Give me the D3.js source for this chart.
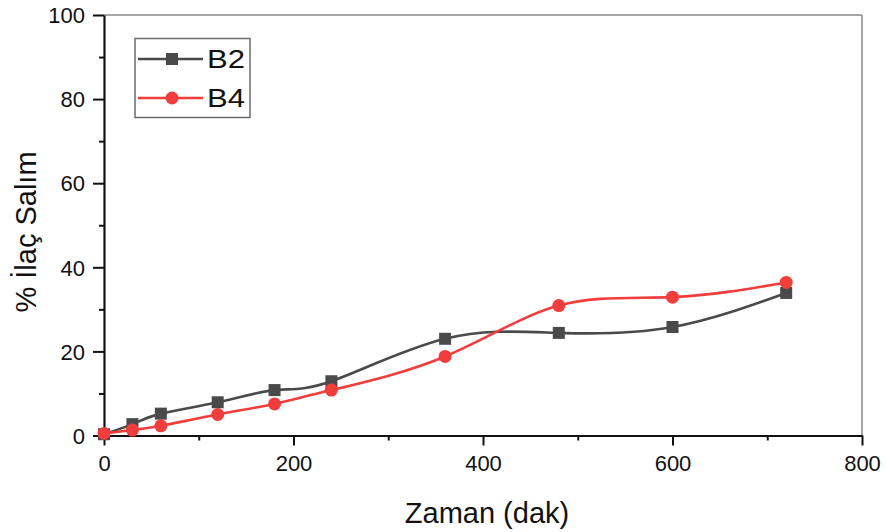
<!DOCTYPE html>
<html>
<head>
<meta charset="utf-8">
<script src="https://cdn.jsdelivr.net/npm/d3@7"></script>
<style>
  html, body { margin: 0; padding: 0; background: #fff; }
  svg { display: block; font-family: Arial, "Liberation Sans", sans-serif; }
</style>
</head>
<body>
<svg id="chart" width="886" height="532"></svg>
<script>
// Release time points (minutes)
const times = [0, 30, 60, 120, 180, 240, 360, 480, 600, 720];
// Cumulative drug release (%) for each formulation
const b2Values = [0.3, 2.7, 5.2, 7.9, 10.8, 12.9, 23.0, 24.4, 25.8, 33.9];
const b4Values = [0.5, 1.3, 2.3, 5.0, 7.5, 10.8, 18.8, 30.9, 32.9, 36.4];
const seriesNames = ["B2", "B4"];
const seriesColors = ["#4a4a4a", "#f23d3d"];
const xTicks = [0, 200, 400, 600, 800];
const yTicks = [0, 20, 40, 60, 80, 100];

(function () {
const svg = d3.select("#chart");
const plotLeft = 104, plotRight = 862, plotTop = 15, plotBottom = 435.5;

const x = d3.scaleLinear().domain([0, 800]).range([plotLeft, plotRight]);
const y = d3.scaleLinear().domain([0, 100]).range([plotBottom, plotTop]);

// Frame: thin grey top and right edges
svg.append("line").attr("x1", plotLeft).attr("x2", plotRight).attr("y1", plotTop).attr("y2", plotTop)
  .attr("stroke", "#8a8a8a").attr("stroke-width", 1.5);
svg.append("line").attr("x1", plotRight).attr("x2", plotRight).attr("y1", plotTop).attr("y2", plotBottom)
  .attr("stroke", "#8a8a8a").attr("stroke-width", 1.5);

// Bottom axis with major and minor ticks
const xMinor = svg.append("g").attr("transform", `translate(0,${plotBottom})`)
  .call(d3.axisBottom(x).tickValues(d3.range(100, 800, 200)).tickSize(5).tickFormat(""));
xMinor.call(g => g.select(".domain").remove());
const xMajor = svg.append("g").attr("transform", `translate(0,${plotBottom})`)
  .call(d3.axisBottom(x).tickValues(xTicks).tickSize(10).tickSizeOuter(0).tickPadding(10));

// Left axis with major and minor ticks
const yMinor = svg.append("g").attr("transform", `translate(${plotLeft},0)`)
  .call(d3.axisLeft(y).tickValues(d3.range(10, 100, 20)).tickSize(5).tickFormat(""));
yMinor.call(g => g.select(".domain").remove());
const yMajor = svg.append("g").attr("transform", `translate(${plotLeft},0)`)
  .call(d3.axisLeft(y).tickValues(yTicks).tickSize(11).tickSizeOuter(0).tickPadding(8));

svg.selectAll(".tick line").attr("stroke", "#111").attr("stroke-width", 2);
svg.selectAll(".domain").attr("stroke", "#111").attr("stroke-width", 2.2);
xMajor.selectAll(".tick text").attr("font-size", 22).attr("fill", "#111")
  .attr("font-family", "Arial, 'Liberation Sans', sans-serif");
yMajor.selectAll(".tick text").attr("font-size", 22).attr("fill", "#111")
  .attr("dy", "0.35em").attr("font-family", "Arial, 'Liberation Sans', sans-serif");

// Axis titles
svg.append("text").attr("x", (plotLeft + plotRight) / 2 + 4).attr("y", 523)
  .attr("text-anchor", "middle").attr("font-size", 29).attr("fill", "#111")
  .text("Zaman (dak)");
svg.append("text").attr("transform", "translate(36,232) rotate(-90)")
  .attr("text-anchor", "middle").attr("font-size", 29).attr("fill", "#111")
  .text("% İlaç Salım");

// Series lines (smooth spline) and markers
const series = [b2Values, b4Values];
const line = d3.line()
  .x((d, i) => x(times[i]))
  .y(d => y(d))
  .curve(d3.curveNatural);

series.forEach((vals, s) => {
  const g = svg.append("g");
  g.append("path").datum(vals).attr("d", line)
    .attr("fill", "none").attr("stroke", seriesColors[s]).attr("stroke-width", 2.6);
  if (s === 0) {
    g.selectAll("rect").data(vals).join("rect")
      .attr("x", (d, i) => x(times[i]) - 6).attr("y", d => y(d) - 6)
      .attr("width", 12).attr("height", 12).attr("fill", seriesColors[s]);
  } else {
    g.selectAll("circle").data(vals).join("circle")
      .attr("cx", (d, i) => x(times[i])).attr("cy", d => y(d))
      .attr("r", 6.5).attr("fill", seriesColors[s]);
  }
});

// Legend
const legend = svg.append("g");
legend.append("rect").attr("x", 135).attr("y", 38.5).attr("width", 115).attr("height", 79)
  .attr("fill", "#fff").attr("stroke", "#6b6b6b").attr("stroke-width", 1.5);
seriesNames.forEach((name, s) => {
  const cy = 59 + s * 39;
  legend.append("line").attr("x1", 138).attr("x2", 203).attr("y1", cy).attr("y2", cy)
    .attr("stroke", seriesColors[s]).attr("stroke-width", 2.6);
  if (s === 0) {
    legend.append("rect").attr("x", 166).attr("y", cy - 6).attr("width", 12).attr("height", 12)
      .attr("fill", seriesColors[s]);
  } else {
    legend.append("circle").attr("cx", 172).attr("cy", cy).attr("r", 6.5)
      .attr("fill", seriesColors[s]);
  }
  legend.append("text").attr("x", 207).attr("y", cy + 9).attr("font-size", 26)
    .attr("fill", "#111").attr("textLength", 38).attr("lengthAdjust", "spacingAndGlyphs")
    .text(name);
});
})();
</script>
</body>
</html>
